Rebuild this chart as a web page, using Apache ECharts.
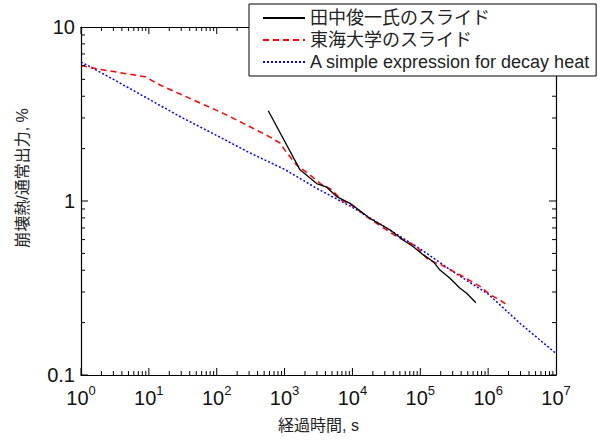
<!DOCTYPE html>
<html>
<head>
<meta charset="utf-8">
<script src="https://cdn.jsdelivr.net/npm/echarts@6/dist/echarts.min.js"></script>
<style>
  html, body { margin: 0; padding: 0; background: #fff; }
  #chart { width: 602px; height: 441px; }
</style>
</head>
<body>
<div id="chart"></div>
<script>
// 経過時間 [s] と 崩壊熱/通常出力 [%]
var tanakaTime = [575, 1690, 2970, 4170, 5860, 9200, 18000, 36000, 56000, 79000, 111000, 156000, 195000, 274000, 385000, 483000, 660000];
var tanakaPct  = [3.30, 1.51, 1.26, 1.20, 1.06, 0.97, 0.796, 0.681, 0.597, 0.546, 0.49, 0.448, 0.401, 0.36, 0.315, 0.295, 0.26];

var tokaiTime = [1, 1.9, 8.8, 14.6, 45, 125, 309, 575, 860, 1010, 1500, 2220, 3360, 4980, 6950, 10700, 16300, 45000, 89000, 131000, 205000, 430000, 770000, 1080000, 1500000, 1900000];
var tokaiPct  = [6.0, 5.71, 5.18, 4.64, 3.81, 3.19, 2.67, 2.36, 2.15, 1.96, 1.61, 1.44, 1.26, 1.16, 1.01, 0.927, 0.81, 0.624, 0.546, 0.458, 0.429, 0.367, 0.322, 0.288, 0.27, 0.252];

var simpleTime = [1, 3, 10, 30, 100, 300, 1000, 3000, 10000, 30000, 100000, 300000, 1000000, 3000000, 10000000];
var simplePct  = [6.3, 5.0, 3.85, 3.03, 2.38, 1.90, 1.52, 1.18, 0.92, 0.71, 0.53, 0.394, 0.292, 0.197, 0.133];

var seriesNames = ['田中俊一氏のスライド', '東海大学のスライド', 'A simple expression for decay heat'];

var xRange = [1, 1e7];
var yRange = [0.1, 10];

var FONT = '"Liberation Sans", "Noto Sans CJK JP", sans-serif';
var LEGEND_LEFT = 249, LEGEND_BOTTOM = 80;

function zip(a, b) {
    return a.map(function (v, i) { return [v, b[i]]; });
}

var axisCommon = {
    type: 'log',
    logBase: 10,
    interval: 1,
    axisLine: { show: true, lineStyle: { color: '#000', width: 1.2 } },
    axisTick: { show: false },
    splitLine: { show: false }
};

var chart = echarts.init(document.getElementById('chart'), null, { renderer: 'svg' });
chart.setOption({
    animation: false,
    backgroundColor: '#fff',
    textStyle: { fontFamily: FONT },
    grid: { left: 81, right: 46, top: 27, bottom: 66, outerBoundsMode: 'none', containLabel: false },
    legend: {
        data: seriesNames,
        orient: 'vertical',
        left: LEGEND_LEFT,
        top: 4,
        padding: [5, 6, 5, 13],
        itemWidth: 42,
        itemHeight: 14,
        itemGap: 4,
        backgroundColor: '#fff',
        borderColor: '#000',
        borderWidth: 1,
        borderRadius: 0,
        z: 10,
        itemStyle: { opacity: 0 },
        textStyle: { fontSize: 18, color: '#222', fontFamily: FONT }
    },
    xAxis: [
        Object.assign({}, axisCommon, {
            position: 'bottom',
            min: xRange[0],
            max: xRange[1],
            name: '経過時間, s',
            nameLocation: 'middle',
            nameGap: 42,
            nameTextStyle: { fontSize: 16, color: '#222', fontFamily: FONT },
            axisLabel: {
                margin: 9,
                color: '#111',
                formatter: function (v) {
                    return '{b|10}{s|' + Math.round(Math.log10(v)) + '}';
                },
                rich: {
                    b: { fontSize: 20, fontFamily: FONT, color: '#111' },
                    s: { fontSize: 13, fontFamily: FONT, color: '#111', padding: [0, 0, 14, 0] }
                }
            }
        }),
        Object.assign({}, axisCommon, {
            position: 'top',
            min: xRange[0],
            max: xRange[1],
            axisLabel: { show: false }
        })
    ],
    yAxis: [
        Object.assign({}, axisCommon, {
            position: 'left',
            min: yRange[0],
            max: yRange[1],
            axisLabel: {
                margin: 6,
                fontSize: 20,
                color: '#111',
                fontFamily: FONT,
                formatter: function (v) { return String(Math.round(v * 10) / 10); }
            }
        }),
        Object.assign({}, axisCommon, {
            position: 'right',
            min: yRange[0],
            max: yRange[1],
            axisLabel: { show: false }
        })
    ],
    series: [
        {
            name: seriesNames[0],
            type: 'line',
            data: zip(tanakaTime, tanakaPct),
            symbol: 'none',
            color: '#000',
            lineStyle: { color: '#000', width: 1.3, type: 'solid' },
            z: 5
        },
        {
            name: seriesNames[1],
            type: 'line',
            data: zip(tokaiTime, tokaiPct),
            symbol: 'none',
            color: '#ff0000',
            lineStyle: { color: '#ff0000', width: 1.5, type: [6, 4] },
            z: 4
        },
        {
            name: seriesNames[2],
            type: 'line',
            data: zip(simpleTime, simplePct),
            symbol: 'none',
            color: '#0000ff',
            lineStyle: { color: '#0000ff', width: 1.5, type: [2, 2] },
            z: 3
        }
    ]
});

// 対数目盛り (1..9 × 10^n) を内向きに四辺へ描く。位置は軸のスケールから取る
function buildTicks() {
    var lo = chart.convertToPixel({ gridIndex: 0 }, [xRange[0], yRange[0]]);
    var hi = chart.convertToPixel({ gridIndex: 0 }, [xRange[1], yRange[1]]);
    var gLeft = lo[0], gBottom = lo[1], gRight = hi[0], gTop = hi[1];
    var els = [];
    function tick(x1, y1, x2, y2) {
        if (![x1, y1, x2, y2].every(isFinite)) return;
        // 凡例の枠の下に隠れる目盛りは描かない
        if (Math.max(x1, x2) >= LEGEND_LEFT && Math.min(y1, y2) <= LEGEND_BOTTOM) return;
        els.push({
            type: 'rect',
            silent: true,
            z: 50,
            shape: {
                x: Math.min(x1, x2) - (x1 === x2 ? 0.5 : 0),
                y: Math.min(y1, y2) - (y1 === y2 ? 0.5 : 0),
                width: Math.max(Math.abs(x2 - x1), 1),
                height: Math.max(Math.abs(y2 - y1), 1)
            },
            style: { fill: '#000' }
        });
    }
    for (var e = 0; e < 7; e++) {
        for (var k = 1; k <= 9; k++) {
            var px = chart.convertToPixel({ gridIndex: 0 }, [k * Math.pow(10, e), 1])[0];
            var len = k === 1 ? 7 : 4;
            tick(px, gBottom, px, gBottom - len);
            tick(px, gTop, px, gTop + len);
        }
    }
    [0.1, 1].forEach(function (d) {
        for (var k = 1; k <= 9; k++) {
            var py = chart.convertToPixel({ gridIndex: 0 }, [1, k * d])[1];
            var len = k === 1 ? 7 : 4;
            tick(gLeft, py, gLeft + len, py);
            tick(gRight, py, gRight - len, py);
        }
    });
    return els;
}

chart.setOption({
    graphic: [{
        type: 'text',
        x: 22,
        y: 178,
        rotation: Math.PI / 2,
        style: {
            text: '崩壊熱/通常出力, %',
            font: '16px ' + FONT,
            fill: '#222',
            textAlign: 'center',
            textVerticalAlign: 'middle'
        }
    }].concat(buildTicks())
});
chart.getZr().flush();
</script>
</body>
</html>
